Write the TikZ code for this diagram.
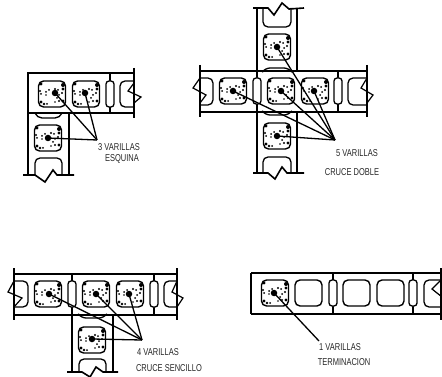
\documentclass[tikz,border=0pt]{standalone}
\usepackage{fontspec}
\setmainfont[FakeStretch=0.75]{Liberation Sans}
\tikzset{
  wall/.style={line width=1.6pt},
  web/.style={line width=1.2pt},
  hollow/.style={draw, line width=1.4pt, rounded corners=5pt, minimum width=27pt, minimum height=26pt, inner sep=0pt},
  openend/.style={line width=1.3pt, rounded corners=5pt},
  slot/.style={draw, fill=white, line width=1.3pt, rounded corners=3pt, minimum width=8pt, minimum height=26pt, inner sep=0pt},
  rebar/.style={circle, fill=black, minimum size=6.5pt, inner sep=0pt},
  leader/.style={line width=1.3pt},
  tag/.style={font=\fontsize{10}{10}\selectfont, inner sep=0pt, text=black!85},
  grout/.pic={
    \foreach \a/\b/\r in {-11/-10/1.6,-12/-3/1.1,-11/0/1,-11/8/1.6,-8/10/1.4,-5/10/1,-6/-2/1,-6/1/.9,-3/-4/1,3/-5/1.2,6/-4/1,5/4/1,7/1/1,7/7/1.1,3/8/.9,11/-9/2,11/-5/1.7,10/-1/1.1,11/7/1.6}
      \fill (\a,\b) circle (\r);
  }
}
\begin{document}
\begin{tikzpicture}[x=1pt,y=-1pt]
\useasboundingbox (0,0) rectangle (442,377);

% esquina
\draw[wall] (134,68) -- (134,118);
\draw[wall] (134,73) -- (28,73) -- (28,175);
\draw[wall] (134,113) -- (28,113);
\draw[wall] (69,113) -- (69,175);
\draw[web] (110,73) -- (110,113);
\draw[wall] (23,175) -- (35,175) -- (45,182) -- (53,170) -- (57,175) -- (74,175);
\node[slot] (s1) at (110,94) {};
\draw[openend] (134,81) -- (120,81) -- (120,107) -- (134,107);
\draw[web] (134,83) -- (128,91) -- (141,97) -- (134,103);
\draw[openend] (35,113) -- (37,118) -- (60,118) -- (62,113);
\draw[openend] (35,175) -- (35,158) -- (62,158) -- (62,175);
\foreach \name/\x/\y in {e1/52/94, e2/86/94, e3/48/138}
{
  \node[hollow] (\name) at (\x,\y) {};
  \pic at (\x,\y) {grout};
}
\node[rebar] (be1) at (55,93) {};
\node[rebar] (be2) at (85,93) {};
\node[rebar] (be3) at (48,138) {};
\coordinate (je) at (97,140);
\foreach \b in {be1,be2,be3}
  \draw[leader] (\b.center) -- (je);
\node[tag] (te1) at (119,147) {3 VARILLAS};
\node[tag] (te2) at (122,159) {ESQUINA};

% cruce doble
\draw[wall] (200,65) -- (200,117);
\draw[wall] (367,65) -- (367,117);
\draw[wall] (200,71) -- (367,71);
\draw[wall] (200,112) -- (367,112);
\draw[wall] (257,8) -- (257,173);
\draw[wall] (297,8) -- (297,71);
\draw[wall] (297,112) -- (297,173);
\draw[web] (338,71) -- (338,112);
\draw[wall] (253,8) -- (268,8) -- (274,15) -- (282,3) -- (289,9) -- (304,8);
\draw[wall] (253,173) -- (268,173) -- (275,179) -- (282,167) -- (287,173) -- (304,173);
\node[slot] (s2) at (257,91) {};
\node[slot] (s3) at (338,91) {};
\draw[openend] (200,78) -- (213,78) -- (213,105) -- (200,105);
\draw[web] (200,78) -- (193,88) -- (206,95) -- (200,103);
\draw[openend] (367,78) -- (348,78) -- (348,105) -- (367,105);
\draw[web] (367,78) -- (361,88) -- (373,95) -- (367,103);
\draw[openend] (263,8) -- (263,27) -- (291,27) -- (291,8);
\draw[openend] (263,173) -- (263,157) -- (291,157) -- (291,173);
\draw[openend] (263,71) -- (265,68) -- (289,68) -- (291,71);
\draw[openend] (263,112) -- (265,115) -- (289,115) -- (291,112);
\foreach \name/\x/\y in {d1/233/91, d2/281/91, d3/315/91, d4/277/47, d5/277/136}
{
  \node[hollow] (\name) at (\x,\y) {};
  \pic at (\x,\y) {grout};
}
\node[rebar] (bd1) at (233,91) {};
\node[rebar] (bd2) at (281,91) {};
\node[rebar] (bd3) at (314,91) {};
\node[rebar] (bd4) at (277,47) {};
\node[rebar] (bd5) at (277,136) {};
\coordinate (jd) at (335,140);
\foreach \b in {bd1,bd2,bd3,bd4,bd5}
  \draw[leader] (\b.center) -- (jd);
\node[tag] (td1) at (357,153) {5 VARILLAS};
\node[tag] (td2) at (352,172) {CRUCE DOBLE};

% cruce sencillo
\draw[wall] (14,268) -- (14,320);
\draw[wall] (177,268) -- (177,320);
\draw[wall] (14,274) -- (177,274);
\draw[wall] (14,315) -- (177,315);
\draw[wall] (72,274) -- (72,372);
\draw[wall] (113,315) -- (113,372);
\draw[web] (154,274) -- (154,315);
\draw[wall] (67,372) -- (82,372) -- (90,377) -- (96,367) -- (103,372) -- (118,372);
\node[slot] (s4) at (72,294) {};
\node[slot] (s5) at (154,294) {};
\draw[openend] (14,281) -- (28,281) -- (28,307) -- (14,307);
\draw[web] (14,281) -- (8,292) -- (22,298) -- (14,307);
\draw[openend] (177,281) -- (164,281) -- (164,307) -- (177,307);
\draw[web] (177,281) -- (172,292) -- (183,298) -- (177,307);
\draw[openend] (79,315) -- (81,318) -- (104,318) -- (106,315);
\draw[openend] (79,372) -- (79,359) -- (106,359) -- (106,372);
\foreach \name/\x/\y in {c1/48/294, c2/96/294, c3/130/294, c4/92/340}
{
  \node[hollow] (\name) at (\x,\y) {};
  \pic at (\x,\y) {grout};
}
\node[rebar] (bc1) at (49,294) {};
\node[rebar] (bc2) at (96,294) {};
\node[rebar] (bc3) at (129,294) {};
\node[rebar] (bc4) at (92,339) {};
\coordinate (jc) at (142,340);
\foreach \b in {bc1,bc2,bc3,bc4}
  \draw[leader] (\b.center) -- (jc);
\node[tag] (tc1) at (158,352) {4 VARILLAS};
\node[tag] (tc2) at (169,368) {CRUCE SENCILLO};

% terminacion
\draw[wall] (251,273) -- (251,314);
\draw[wall] (251,273) -- (441,273);
\draw[wall] (251,314) -- (441,314);
\draw[wall] (441,268) -- (441,320);
\draw[web] (333,273) -- (333,314);
\draw[web] (413,273) -- (413,314);
\node[slot] (s6) at (333,293) {};
\node[slot] (s7) at (413,293) {};
\draw[openend] (441,280) -- (424,280) -- (424,307) -- (441,307);
\draw[web] (441,280) -- (432,289) -- (442,297);
\node[hollow] (t1) at (275,293) {};
\pic at (275,293) {grout};
\foreach \name/\x in {t2/308.5, t3/356.5, t4/390.5}
  \node[hollow] (\name) at (\x,293) {};
\node[rebar] (bt1) at (274,293) {};
\coordinate (jt) at (319,341);
\draw[leader] (bt1.center) -- (jt);
\node[tag] (tt1) at (340,347) {1 VARILLAS};
\node[tag] (tt2) at (344,362) {TERMINACION};
\end{tikzpicture}
\end{document}
